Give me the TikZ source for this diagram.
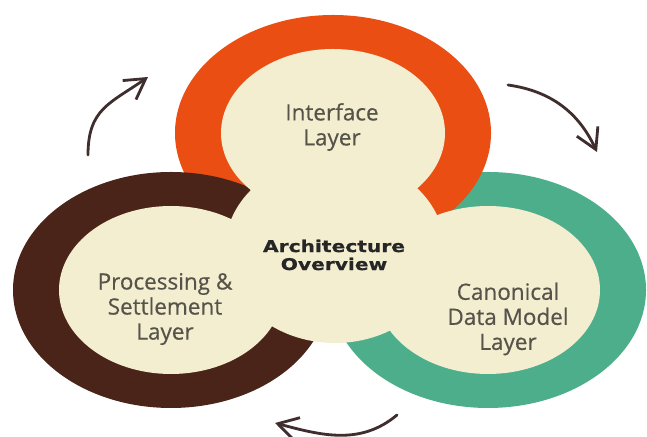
\documentclass[tikz,border=0pt]{standalone}
\usepackage{fontspec}
\setmainfont{Open Sans}
\newfontfamily\labelfont{Open Sans}[FakeBold=0.5]
\newfontfamily\heavyfont{DejaVu Sans}[FakeStretch=1.25, BoldFeatures={FakeBold=0.8}]
\usetikzlibrary{arrows.meta}
\definecolor{ringorange}{HTML}{EA4E12}
\definecolor{ringbrown}{HTML}{4A2418}
\definecolor{ringteal}{HTML}{4DAE8C}
\definecolor{cream}{HTML}{F3EED0}
\definecolor{labelgray}{HTML}{55534A}
\definecolor{arrowbrown}{HTML}{3F2E2D}
\begin{document}
\begin{tikzpicture}[
  layer/.style={align=center, text=labelgray, font=\labelfont\fontsize{16}{17.8}\selectfont},
  hub/.style={align=center, text=black!85, font=\heavyfont\bfseries\fontsize{11.5}{12.8}\selectfont},
  turn/.style={draw=arrowbrown, line width=2pt, line cap=round, -{Straight Barb[length=5mm,width=5.8mm]}}
]
\useasboundingbox (0,0) rectangle (16.175,10.925);
\coordinate (top) at (8.325,7.6);
\coordinate (left) at (4.275,3.675);
\coordinate (right) at (12.2,3.675);
\coordinate (mid) at (8.375,4.675);
% rings, back to front
\fill[ringteal] (right) ellipse [x radius=3.95, y radius=2.95];
\fill[ringorange] (top) ellipse [x radius=3.95, y radius=2.95];
\fill[ringbrown] (left) ellipse [x radius=3.95, y radius=2.95];
\foreach \c in {top,left,right}
\fill[cream] (\c) ellipse [x radius=2.8, y radius=2.1];
\fill[cream] (mid) ellipse [x radius=2.75, y radius=2.325];
\node[layer] (interface) at (8.3,7.75) {Interface\\Layer};
\node[layer] (processing) at (4.125,3.2) {Processing \&\\Settlement\\Layer};
\node[layer] (canonical) at (12.7,2.95) {Canonical\\Data Model\\Layer};
\node[hub] (overview) at (8.35,4.55) {Architecture\\Overview};
% cycle arrows
\coordinate (tl0) at (2.2,7.05);
\coordinate (tl1) at (3.7,9.0);
\coordinate (tr0) at (12.7,8.8);
\coordinate (tr1) at (14.925,7.125);
\coordinate (bt0) at (9.925,0.55);
\coordinate (bt1) at (6.875,0.35);
\draw[turn] (tl0) to[out=90,in=215,looseness=1.2] (tl1);
\draw[turn] (tr0) to[out=-8,in=115] (tr1);
\draw[turn] (bt0) to[out=-140,in=-15] (bt1);
\end{tikzpicture}
\end{document}
